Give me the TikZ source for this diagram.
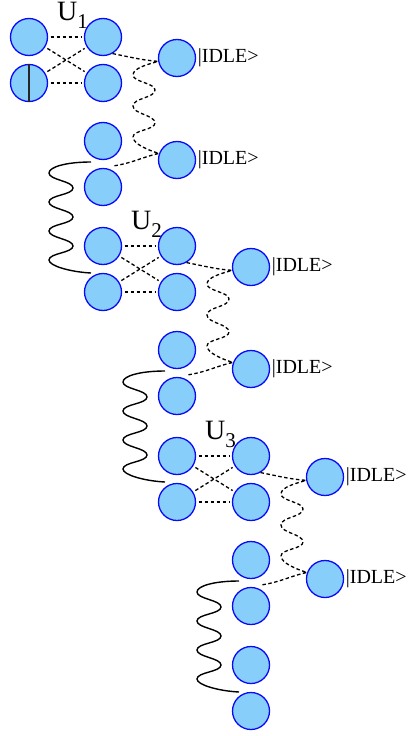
\documentclass[tikz,border=0pt]{standalone}
\usepackage{fontspec}
\setmainfont{Liberation Serif}
\definecolor{qfill}{RGB}{135,206,250}
\definecolor{qline}{RGB}{10,10,245}
\begin{document}
\begin{tikzpicture}[x=1pt,y=-1pt,
  q/.style={circle,draw=qline,fill=qfill,line width=1.3pt,minimum size=37pt,inner sep=0pt},
  dl/.style={line width=1.3pt,dash pattern=on 3.5pt off 2.5pt,shorten >=2.5pt,shorten <=2.5pt},
  dw/.style={line width=1.3pt,dash pattern=on 3.5pt off 2.5pt},
  sw/.style={line width=1.4pt},
  idl/.style={anchor=west,inner sep=0pt,font=\fontsize{20}{20}\selectfont},
  ulab/.style={anchor=base west,inner sep=0pt,font=\fontsize{28}{28}\selectfont},
]
\path[use as bounding box] (0,0) rectangle (409,736);
\foreach \k/\ox/\oy in {1/29/37, 2/103/246, 3/177/456}{
  \node[q] (lt\k) at (\ox,\oy) {};
  \node[q] (lb\k) at (\ox,\oy+46) {};
  \node[q] (rt\k) at (\ox+74,\oy) {};
  \node[q] (rb\k) at (\ox+74,\oy+46) {};
  \node[q] (ia\k) at (\ox+148,\oy+21) {};
  \node[q] (ib\k) at (\ox+148,\oy+123) {};
  \node[q] (nt\k) at (\ox+74,\oy+104) {};
  \node[q] (nb\k) at (\ox+74,\oy+150) {};
  \node[idl] (ila\k) at ([xshift=1.5pt]ia\k.east) {|IDLE>};
  \node[idl] (ilb\k) at ([xshift=1.5pt]ib\k.east) {|IDLE>};
  \node[ulab] (u\k) at (\ox+28,\oy-17) {U\raisebox{-8pt}{\fontsize{21}{21}\selectfont\k}};
  \draw[dl] (lt\k) -- (rt\k);
  \draw[dl] (lb\k) -- (rb\k);
  \draw[dl] (lt\k) -- (rb\k);
  \draw[dl] (lb\k) -- (rt\k);
  \coordinate (de\k) at (\ox+84,\oy+129);
  \coordinate (ws\k) at (\ox+62,\oy+125);
  \coordinate (we\k) at (\ox+62,\oy+236);
  \draw[dw] (rt\k.-60) .. controls +(20,4) and +(-15,-1) .. (ia\k.190)
    .. controls +(-10,3) and +(0,-7) .. (\ox+104,\oy+38)
    .. controls +(0,7) and +(0,-7) .. (\ox+126,\oy+53)
    .. controls +(0,8) and +(0,-8) .. (\ox+104,\oy+69)
    .. controls +(0,8) and +(0,-8) .. (\ox+126,\oy+86)
    .. controls +(0,7) and +(0,-7) .. (\ox+104,\oy+100)
    .. controls +(0,7) and +(-10,-3) .. (ib\k.160)
    .. controls +(-15,3) and +(20,-3) .. (de\k);
  \draw[sw] (ws\k) .. controls +(-25,0) and +(0,-6) .. (\ox+20,\oy+136)
    .. controls +(0,7) and +(0,-7) .. (\ox+44,\oy+151)
    .. controls +(0,7) and +(0,-7) .. (\ox+20,\oy+165)
    .. controls +(0,7) and +(0,-7) .. (\ox+44,\oy+180)
    .. controls +(0,7) and +(0,-7) .. (\ox+20,\oy+194)
    .. controls +(0,7) and +(0,-7) .. (\ox+44,\oy+209)
    .. controls +(0,7) and +(0,-7) .. (\ox+20,\oy+223)
    .. controls +(0,6) and +(-20,-1) .. (we\k);
}
\node[q] (j1) at (251,665) {};
\node[q] (j2) at (251,711) {};
\draw[line width=1.3pt,black!85] (lb1.north) -- (lb1.south);
\end{tikzpicture}
\end{document}
